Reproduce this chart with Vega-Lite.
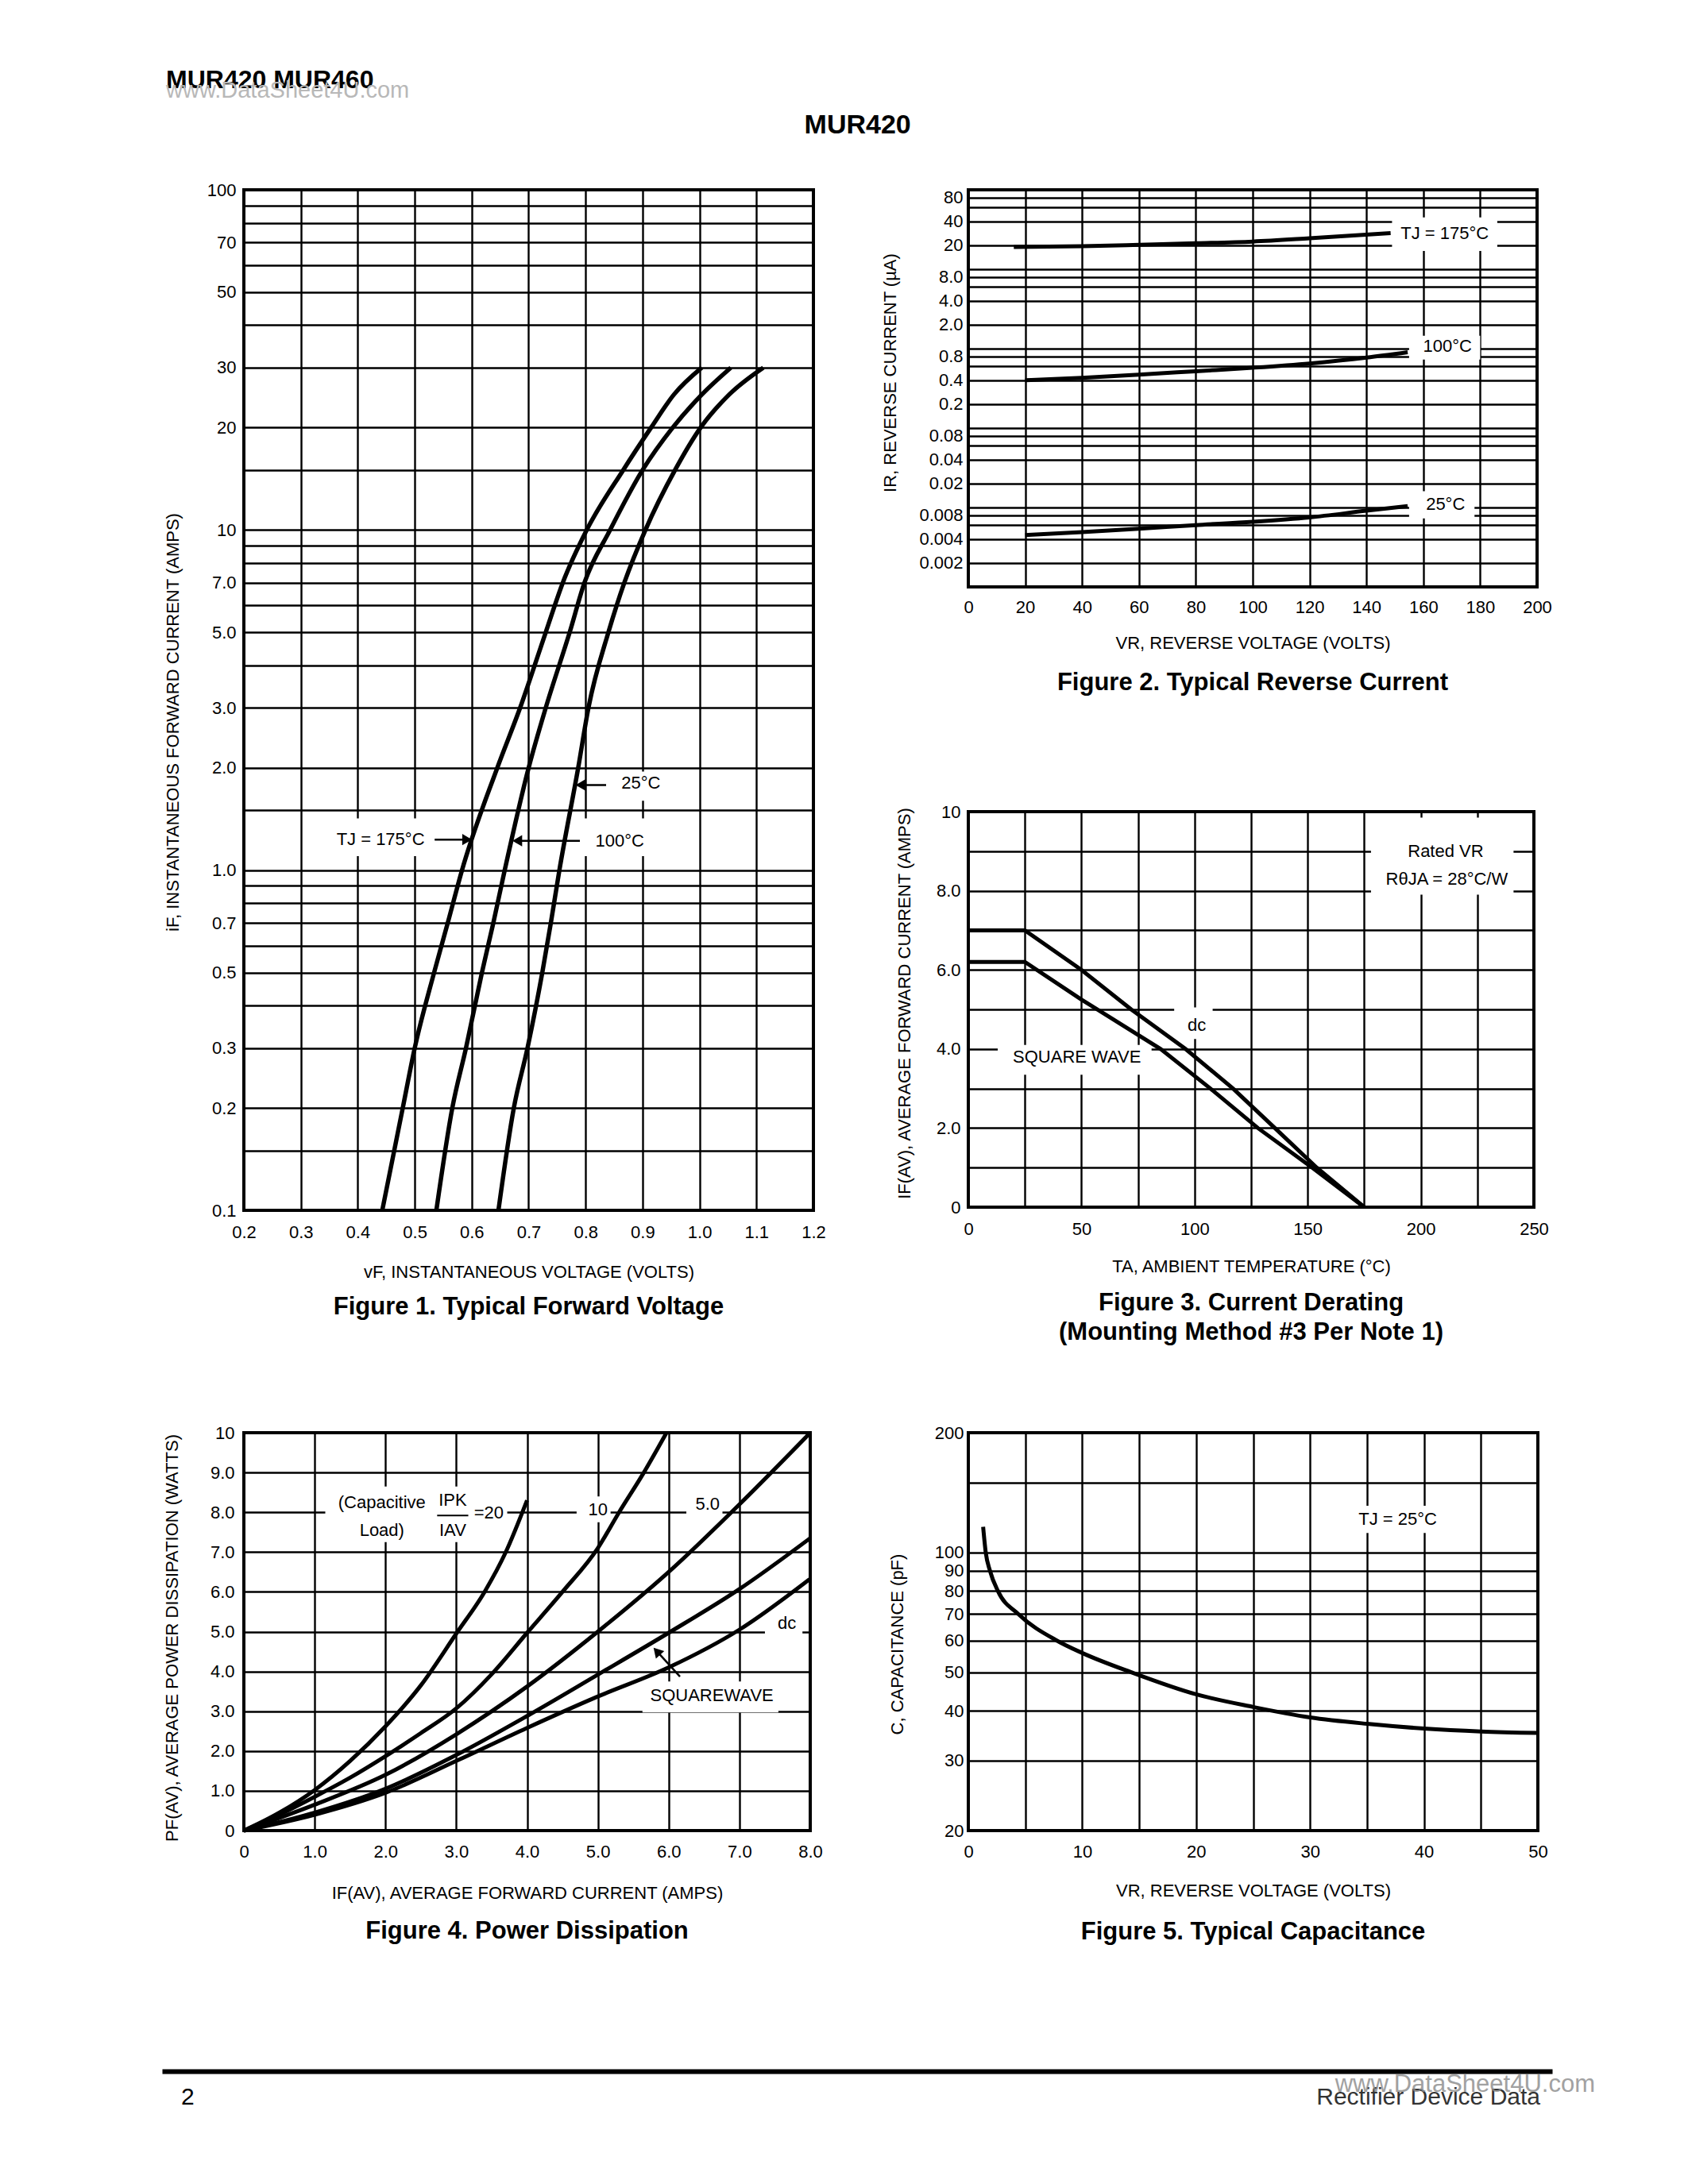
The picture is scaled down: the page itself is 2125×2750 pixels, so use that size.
{
  "$schema": "https://vega.github.io/schema/vega-lite/v6.json",
  "background": "white",
  "padding": {"left": 202, "top": 85, "right": 10, "bottom": 10},
  "title": {"text": "MUR420 MUR460", "subtitle": "www.DataSheet4U.com", "anchor": "start", "frame": "bounds", "offset": 11, "dx": 6, "font": "Liberation Sans", "fontSize": 32, "fontWeight": "bold", "color": "black", "subtitleFont": "Liberation Sans", "subtitleFontSize": 29, "subtitleFontWeight": "normal", "subtitleColor": "#b8b8b8", "subtitlePadding": -18},
  "spacing": 158,
  "vconcat": [
    {
      "spacing": 96,
      "vconcat": [
        {
          "title": {"text": "MUR420", "anchor": "middle", "frame": "bounds", "offset": 51, "font": "Liberation Sans", "fontSize": 34, "fontWeight": "bold", "color": "black"},
          "spacing": 64,
          "hconcat": [
            {
              "width": 717, "height": 1285,
              "title": {"text": "Figure 1. Typical Forward Voltage", "orient": "bottom", "anchor": "middle", "frame": "group", "offset": 19, "font": "Liberation Sans", "fontSize": 31, "fontWeight": "bold", "color": "black"},
              "encoding": {
                "x": {"field": "x", "type": "quantitative", "scale": {"domain": [0.2, 1.2], "nice": false, "zero": false},
                  "axis": {"values": [0.2, 0.3, 0.4, 0.5, 0.6, 0.7, 0.8, 0.9, 1.0, 1.1, 1.2], "labelExpr": "format(datum.value, '.1f')", "labelPadding": 17, "title": "vF, INSTANTANEOUS VOLTAGE (VOLTS)", "titleY": 67}},
                "y": {"field": "y", "type": "quantitative", "scale": {"type": "log", "domain": [0.1, 100], "nice": false},
                  "axis": {"values": [0.1, 0.15, 0.2, 0.3, 0.4, 0.5, 0.6, 0.7, 0.8, 0.9, 1, 1.5, 2, 3, 4, 5, 6, 7, 8, 9, 10, 15, 20, 30, 40, 50, 60, 70, 80, 90, 100],
                    "labelExpr": "indexof([0.1,0.2,0.3,0.5,0.7,1,2,3,5,7,10,20,30,50,70,100], datum.value) < 0 ? '' : datum.value < 10 ? format(datum.value, '.1f') : format(datum.value, 'd')",
                    "labelPadding": 10, "title": "iF, INSTANTANEOUS FORWARD CURRENT (AMPS)", "titleX": -78, "titleY": 670}}
              },
              "layer": [
                {"data": {"values": [
                  {"x": 0.355, "x2": 0.535, "y": 1.1, "y2": 1.42},
                  {"x": 0.79, "x2": 0.91, "y": 1.1, "y2": 1.42},
                  {"x": 0.835, "x2": 0.94, "y": 1.6, "y2": 1.95}]},
                  "mark": {"type": "rect", "fill": "white", "strokeWidth": 0},
                  "encoding": {"x2": {"field": "x2"}, "y2": {"field": "y2"}}},
                {"data": {"values": [
                  {"series": "175°C", "x": 0.443, "y": 0.1}, {"series": "175°C", "x": 0.479, "y": 0.2}, {"series": "175°C", "x": 0.5, "y": 0.3}, {"series": "175°C", "x": 0.534, "y": 0.5}, {"series": "175°C", "x": 0.558, "y": 0.7}, {"series": "175°C", "x": 0.583, "y": 1.0}, {"series": "175°C", "x": 0.645, "y": 2.0}, {"series": "175°C", "x": 0.685, "y": 3.0}, {"series": "175°C", "x": 0.73, "y": 5.0}, {"series": "175°C", "x": 0.76, "y": 7.0}, {"series": "175°C", "x": 0.802, "y": 10}, {"series": "175°C", "x": 0.866, "y": 15}, {"series": "175°C", "x": 0.915, "y": 20}, {"series": "175°C", "x": 0.955, "y": 25}, {"series": "175°C", "x": 1.004, "y": 30},
                  {"series": "100°C", "x": 0.538, "y": 0.1}, {"series": "100°C", "x": 0.566, "y": 0.2}, {"series": "100°C", "x": 0.59, "y": 0.3}, {"series": "100°C", "x": 0.618, "y": 0.5}, {"series": "100°C", "x": 0.638, "y": 0.7}, {"series": "100°C", "x": 0.658, "y": 1.0}, {"series": "100°C", "x": 0.7, "y": 2.0}, {"series": "100°C", "x": 0.73, "y": 3.0}, {"series": "100°C", "x": 0.772, "y": 5.0}, {"series": "100°C", "x": 0.798, "y": 7.0}, {"series": "100°C", "x": 0.843, "y": 10}, {"series": "100°C", "x": 0.9, "y": 15}, {"series": "100°C", "x": 0.953, "y": 20}, {"series": "100°C", "x": 1.004, "y": 25}, {"series": "100°C", "x": 1.055, "y": 30},
                  {"series": "25°C", "x": 0.647, "y": 0.1}, {"series": "25°C", "x": 0.674, "y": 0.2}, {"series": "25°C", "x": 0.698, "y": 0.3}, {"series": "25°C", "x": 0.724, "y": 0.5}, {"series": "25°C", "x": 0.739, "y": 0.7}, {"series": "25°C", "x": 0.754, "y": 1.0}, {"series": "25°C", "x": 0.787, "y": 2.0}, {"series": "25°C", "x": 0.805, "y": 3.0}, {"series": "25°C", "x": 0.84, "y": 5.0}, {"series": "25°C", "x": 0.868, "y": 7.0}, {"series": "25°C", "x": 0.905, "y": 10}, {"series": "25°C", "x": 0.957, "y": 15}, {"series": "25°C", "x": 1.002, "y": 20}, {"series": "25°C", "x": 1.052, "y": 25}, {"series": "25°C", "x": 1.112, "y": 30}]},
                  "mark": {"type": "line", "interpolate": "monotone", "strokeWidth": 5.5, "color": "black"},
                  "encoding": {"detail": {"field": "series", "type": "nominal"}}},
                {"data": {"values": [
                  {"x": 0.592, "x2": 0.535, "y": 1.23, "dir": "right"},
                  {"x": 0.68, "x2": 0.79, "y": 1.22, "dir": "left"},
                  {"x": 0.791, "x2": 0.836, "y": 1.78, "dir": "left"}]},
                  "mark": {"type": "rule", "strokeWidth": 2.5, "color": "black"},
                  "encoding": {"x2": {"field": "x2"}}},
                {"data": {"values": [
                  {"x": 0.592, "y": 1.23, "dir": "right"},
                  {"x": 0.68, "y": 1.22, "dir": "left"},
                  {"x": 0.791, "y": 1.78, "dir": "left"}]},
                  "mark": {"type": "point", "filled": true, "size": 200, "color": "black", "opacity": 1, "strokeWidth": 0},
                  "encoding": {"shape": {"field": "dir", "type": "nominal", "scale": {"domain": ["right", "left"], "range": ["triangle-right", "triangle-left"]}, "legend": null}}},
                {"data": {"values": [
                  {"label": "TJ = 175°C", "x": 0.44, "y": 1.23},
                  {"label": "100°C", "x": 0.86, "y": 1.22},
                  {"label": "25°C", "x": 0.897, "y": 1.8}]},
                  "mark": {"type": "text", "font": "Liberation Sans", "fontSize": 22, "color": "black"},
                  "encoding": {"text": {"field": "label"}}}
              ]
            },
            {
              "spacing": 132,
              "vconcat": [
                {
                  "width": 716, "height": 500,
                  "title": {"text": "Figure 2. Typical Reverse Current", "orient": "bottom", "anchor": "middle", "frame": "group", "offset": 25, "font": "Liberation Sans", "fontSize": 31, "fontWeight": "bold", "color": "black"},
                  "encoding": {
                    "x": {"field": "x", "type": "quantitative", "scale": {"domain": [0, 200], "nice": false, "zero": false},
                      "axis": {"values": [0, 20, 40, 60, 80, 100, 120, 140, 160, 180, 200], "labelExpr": "toString(datum.value)", "labelPadding": 15, "title": "VR, REVERSE VOLTAGE (VOLTS)", "titleY": 60}},
                    "y": {"field": "y", "type": "quantitative", "scale": {"type": "log", "domain": [0.001, 100], "nice": false},
                      "axis": {"values": [0.001, 0.002, 0.004, 0.006, 0.008, 0.01, 0.02, 0.04, 0.06, 0.08, 0.1, 0.2, 0.4, 0.6, 0.8, 1, 2, 4, 6, 8, 10, 20, 40, 60, 80, 100],
                        "labelExpr": "indexof([0.002,0.004,0.008,0.02,0.04,0.08,0.2,0.4,0.8,2,4,8,20,40,80], datum.value) < 0 ? '' : datum.value < 1 ? toString(datum.value) : datum.value < 10 ? format(datum.value, '.1f') : format(datum.value, 'd')",
                        "labelPadding": 7, "title": "IR, REVERSE CURRENT (µA)", "titleX": -87, "titleY": 230}}
                  },
                  "layer": [
                    {"data": {"values": [
                      {"x": 149, "x2": 186, "y": 17, "y2": 45},
                      {"x": 155, "x2": 180, "y": 0.73, "y2": 1.45},
                      {"x": 155, "x2": 178, "y": 0.0073, "y2": 0.016}]},
                      "mark": {"type": "rect", "fill": "white", "strokeWidth": 0},
                      "encoding": {"x2": {"field": "x2"}, "y2": {"field": "y2"}}},
                    {"data": {"values": [
                      {"series": "175°C", "x": 16, "y": 19.1}, {"series": "175°C", "x": 40, "y": 19.5}, {"series": "175°C", "x": 60, "y": 20.3}, {"series": "175°C", "x": 80, "y": 21.2}, {"series": "175°C", "x": 100, "y": 22.3}, {"series": "175°C", "x": 120, "y": 24.5}, {"series": "175°C", "x": 148.5, "y": 28.5},
                      {"series": "100°C", "x": 20, "y": 0.4}, {"series": "100°C", "x": 40, "y": 0.43}, {"series": "100°C", "x": 60, "y": 0.47}, {"series": "100°C", "x": 80, "y": 0.52}, {"series": "100°C", "x": 100, "y": 0.575}, {"series": "100°C", "x": 120, "y": 0.65}, {"series": "100°C", "x": 140, "y": 0.77}, {"series": "100°C", "x": 154.5, "y": 0.9},
                      {"series": "25°C", "x": 20, "y": 0.0045}, {"series": "25°C", "x": 40, "y": 0.0049}, {"series": "25°C", "x": 60, "y": 0.0054}, {"series": "25°C", "x": 80, "y": 0.006}, {"series": "25°C", "x": 100, "y": 0.0066}, {"series": "25°C", "x": 120, "y": 0.0075}, {"series": "25°C", "x": 140, "y": 0.0091}, {"series": "25°C", "x": 154.5, "y": 0.0104}]},
                      "mark": {"type": "line", "interpolate": "monotone", "strokeWidth": 5, "color": "black"},
                      "encoding": {"detail": {"field": "series", "type": "nominal"}}},
                    {"data": {"values": [
                      {"label": "TJ = 175°C", "x": 167.5, "y": 28},
                      {"label": "100°C", "x": 168.5, "y": 1.08},
                      {"label": "25°C", "x": 167.8, "y": 0.0109}]},
                      "mark": {"type": "text", "font": "Liberation Sans", "fontSize": 22, "color": "black"},
                      "encoding": {"text": {"field": "label"}}}
                  ]
                },
                {
                  "width": 712, "height": 498,
                  "title": {"text": ["Figure 3. Current Derating", "(Mounting Method #3 Per Note 1)"], "orient": "bottom", "anchor": "middle", "frame": "group", "offset": 21, "lineHeight": 37, "font": "Liberation Sans", "fontSize": 31, "fontWeight": "bold", "color": "black"},
                  "encoding": {
                    "x": {"field": "x", "type": "quantitative", "scale": {"domain": [0, 250], "nice": false, "zero": false},
                      "axis": {"values": [0, 25, 50, 75, 100, 125, 150, 175, 200, 225, 250], "labelExpr": "datum.value % 50 == 0 ? toString(datum.value) : ''", "labelPadding": 17, "title": "TA, AMBIENT TEMPERATURE (°C)", "titleY": 64}},
                    "y": {"field": "y", "type": "quantitative", "scale": {"domain": [0, 10], "nice": false, "zero": false},
                      "axis": {"values": [0, 1, 2, 3, 4, 5, 6, 7, 8, 9, 10], "labelExpr": "datum.value % 2 != 0 ? '' : (datum.value == 0 || datum.value == 10) ? toString(datum.value) : format(datum.value, '.1f')", "labelPadding": 10, "title": "IF(AV), AVERAGE FORWARD CURRENT (AMPS)", "titleX": -69, "titleY": 241}}
                  },
                  "layer": [
                    {"data": {"values": [
                      {"x": 178, "x2": 241, "y": 7.9, "y2": 9.85},
                      {"x": 91, "x2": 108, "y": 4.25, "y2": 5.05},
                      {"x": 13, "x2": 81, "y": 3.35, "y2": 4.1}]},
                      "mark": {"type": "rect", "fill": "white", "strokeWidth": 0},
                      "encoding": {"x2": {"field": "x2"}, "y2": {"field": "y2"}}},
                    {"data": {"values": [
                      {"series": "dc", "x": 0, "y": 7.0}, {"series": "dc", "x": 25, "y": 7.0}, {"series": "dc", "x": 50, "y": 6.0}, {"series": "dc", "x": 72, "y": 5.0}, {"series": "dc", "x": 96, "y": 4.0}, {"series": "dc", "x": 117, "y": 3.0}, {"series": "dc", "x": 135.5, "y": 2.0}, {"series": "dc", "x": 154, "y": 1.0}, {"series": "dc", "x": 175, "y": 0},
                      {"series": "square", "x": 0, "y": 6.2}, {"series": "square", "x": 25, "y": 6.2}, {"series": "square", "x": 50, "y": 5.25}, {"series": "square", "x": 85, "y": 4.0}, {"series": "square", "x": 107, "y": 3.0}, {"series": "square", "x": 128, "y": 2.0}, {"series": "square", "x": 152, "y": 1.0}, {"series": "square", "x": 175, "y": 0}]},
                      "mark": {"type": "line", "strokeWidth": 5, "color": "black"},
                      "encoding": {"detail": {"field": "series", "type": "nominal"}}},
                    {"data": {"values": [
                      {"label": "Rated VR", "x": 211, "y": 9.0},
                      {"label": "RθJA = 28°C/W", "x": 211.5, "y": 8.3},
                      {"label": "dc", "x": 101, "y": 4.6},
                      {"label": "SQUARE WAVE", "x": 48, "y": 3.8}]},
                      "mark": {"type": "text", "font": "Liberation Sans", "fontSize": 22, "color": "black"},
                      "encoding": {"text": {"field": "label"}}}
                  ]
                }
              ]
            }
          ]
        },
        {
          "spacing": 78,
          "hconcat": [
            {
              "width": 713, "height": 501,
              "title": {"text": "Figure 4. Power Dissipation", "orient": "bottom", "anchor": "middle", "frame": "group", "offset": 23, "font": "Liberation Sans", "fontSize": 31, "fontWeight": "bold", "color": "black"},
              "encoding": {
                "x": {"field": "x", "type": "quantitative", "scale": {"domain": [0, 8], "nice": false, "zero": false},
                  "axis": {"values": [0, 1, 2, 3, 4, 5, 6, 7, 8], "labelExpr": "datum.value == 0 ? '0' : format(datum.value, '.1f')", "labelPadding": 16, "title": "IF(AV), AVERAGE FORWARD CURRENT (AMPS)", "titleY": 68}},
                "y": {"field": "y", "type": "quantitative", "scale": {"domain": [0, 10], "nice": false, "zero": false},
                  "axis": {"values": [0, 1, 2, 3, 4, 5, 6, 7, 8, 9, 10], "labelExpr": "datum.value == 0 ? '0' : datum.value == 10 ? '10' : format(datum.value, '.1f')", "labelPadding": 12, "title": "PF(AV), AVERAGE POWER DISSIPATION (WATTS)", "titleX": -79, "titleY": 258}}
              },
              "layer": [
                {"data": {"values": [
                  {"x": 1.15, "x2": 3.72, "y": 7.25, "y2": 8.65},
                  {"x": 4.7, "x2": 5.18, "y": 7.75, "y2": 8.4},
                  {"x": 6.25, "x2": 6.76, "y": 7.8, "y2": 8.6},
                  {"x": 7.36, "x2": 7.89, "y": 4.9, "y2": 5.5},
                  {"x": 5.63, "x2": 7.55, "y": 2.97, "y2": 3.75}]},
                  "mark": {"type": "rect", "fill": "white", "strokeWidth": 0},
                  "encoding": {"x2": {"field": "x2"}, "y2": {"field": "y2"}}},
                {"data": {"values": [
                  {"series": "20", "x": 0, "y": 0}, {"series": "20", "x": 0.5, "y": 0.45}, {"series": "20", "x": 1.0, "y": 1.02}, {"series": "20", "x": 1.5, "y": 1.75}, {"series": "20", "x": 2.0, "y": 2.62}, {"series": "20", "x": 2.5, "y": 3.65}, {"series": "20", "x": 3.0, "y": 4.95}, {"series": "20", "x": 3.4, "y": 6.0}, {"series": "20", "x": 3.7, "y": 7.0}, {"series": "20", "x": 4.0, "y": 8.3},
                  {"series": "10", "x": 0, "y": 0}, {"series": "10", "x": 0.5, "y": 0.4}, {"series": "10", "x": 1.0, "y": 0.85}, {"series": "10", "x": 1.5, "y": 1.33}, {"series": "10", "x": 2.0, "y": 1.87}, {"series": "10", "x": 2.5, "y": 2.45}, {"series": "10", "x": 3.0, "y": 3.07}, {"series": "10", "x": 3.5, "y": 3.93}, {"series": "10", "x": 4.0, "y": 4.97}, {"series": "10", "x": 4.5, "y": 6.0}, {"series": "10", "x": 5.0, "y": 7.1}, {"series": "10", "x": 5.3, "y": 8.0}, {"series": "10", "x": 5.65, "y": 9.0}, {"series": "10", "x": 5.97, "y": 10},
                  {"series": "5", "x": 0, "y": 0}, {"series": "5", "x": 1, "y": 0.65}, {"series": "5", "x": 2, "y": 1.4}, {"series": "5", "x": 3, "y": 2.42}, {"series": "5", "x": 4, "y": 3.62}, {"series": "5", "x": 5, "y": 5.0}, {"series": "5", "x": 6, "y": 6.5}, {"series": "5", "x": 7, "y": 8.2}, {"series": "5", "x": 8, "y": 10},
                  {"series": "square", "x": 0, "y": 0}, {"series": "square", "x": 1, "y": 0.45}, {"series": "square", "x": 2, "y": 1.05}, {"series": "square", "x": 3, "y": 1.9}, {"series": "square", "x": 4, "y": 2.88}, {"series": "square", "x": 5, "y": 3.92}, {"series": "square", "x": 6, "y": 4.97}, {"series": "square", "x": 7, "y": 6.07}, {"series": "square", "x": 8, "y": 7.35},
                  {"series": "dc", "x": 0, "y": 0}, {"series": "dc", "x": 1, "y": 0.4}, {"series": "dc", "x": 2, "y": 0.95}, {"series": "dc", "x": 3, "y": 1.75}, {"series": "dc", "x": 4, "y": 2.58}, {"series": "dc", "x": 5, "y": 3.37}, {"series": "dc", "x": 6, "y": 4.1}, {"series": "dc", "x": 7, "y": 5.05}, {"series": "dc", "x": 8, "y": 6.33}]},
                  "mark": {"type": "line", "interpolate": "monotone", "strokeWidth": 5, "color": "black"},
                  "encoding": {"detail": {"field": "series", "type": "nominal"}}},
                {"data": {"values": [{"x": 2.73, "x2": 3.17, "y": 7.92}]},
                  "mark": {"type": "rule", "strokeWidth": 2, "color": "black"},
                  "encoding": {"x2": {"field": "x2"}}},
                {"data": {"values": [{"x": 5.833, "y": 4.507, "x2": 6.16, "y2": 3.87}]},
                  "mark": {"type": "rule", "strokeWidth": 2.5, "color": "black"},
                  "encoding": {"x2": {"field": "x2"}, "y2": {"field": "y2"}}},
                {"data": {"values": [{"x": 5.833, "y": 4.507}]},
                  "mark": {"type": "point", "shape": "triangle-up", "angle": -42, "filled": true, "size": 200, "color": "black", "opacity": 1, "strokeWidth": 0}},
                {"data": {"values": [
                  {"label": "(Capacitive", "x": 1.95, "y": 8.24},
                  {"label": "Load)", "x": 1.95, "y": 7.54},
                  {"label": "IPK", "x": 2.95, "y": 8.3},
                  {"label": "IAV", "x": 2.95, "y": 7.54},
                  {"label": "=20", "x": 3.46, "y": 7.98},
                  {"label": "10", "x": 5.0, "y": 8.07},
                  {"label": "5.0", "x": 6.55, "y": 8.2},
                  {"label": "dc", "x": 7.67, "y": 5.2},
                  {"label": "SQUAREWAVE", "x": 6.61, "y": 3.4}]},
                  "mark": {"type": "text", "font": "Liberation Sans", "fontSize": 22, "color": "black"},
                  "encoding": {"text": {"field": "label"}}}
              ]
            },
            {
              "width": 717, "height": 501,
              "title": {"text": "Figure 5. Typical Capacitance", "orient": "bottom", "anchor": "middle", "frame": "group", "offset": 27, "font": "Liberation Sans", "fontSize": 31, "fontWeight": "bold", "color": "black"},
              "encoding": {
                "x": {"field": "x", "type": "quantitative", "scale": {"domain": [0, 50], "nice": false, "zero": false},
                  "axis": {"values": [0, 5, 10, 15, 20, 25, 30, 35, 40, 45, 50], "labelExpr": "datum.value % 10 == 0 ? toString(datum.value) : ''", "labelPadding": 16, "title": "VR, REVERSE VOLTAGE (VOLTS)", "titleY": 65}},
                "y": {"field": "y", "type": "quantitative", "scale": {"type": "log", "domain": [20, 200], "nice": false},
                  "axis": {"values": [20, 30, 40, 50, 60, 70, 80, 90, 100, 150, 200], "labelExpr": "datum.value == 150 ? '' : toString(datum.value)", "labelPadding": 6, "title": "C, CAPACITANCE (pF)", "titleX": -78, "titleY": 266}}
              },
              "layer": [
                {"data": {"values": [{"x": 33.5, "x2": 41.8, "y": 112, "y2": 131}]},
                  "mark": {"type": "rect", "fill": "white", "strokeWidth": 0},
                  "encoding": {"x2": {"field": "x2"}, "y2": {"field": "y2"}}},
                {"data": {"values": [
                  {"x": 1.3, "y": 116}, {"x": 1.53, "y": 100}, {"x": 1.9, "y": 90}, {"x": 2.6, "y": 80}, {"x": 4.4, "y": 70}, {"x": 7.8, "y": 60}, {"x": 10, "y": 55.9}, {"x": 14.3, "y": 50}, {"x": 20, "y": 44}, {"x": 25, "y": 40.9}, {"x": 30, "y": 38.5}, {"x": 35, "y": 37.1}, {"x": 40, "y": 36.1}, {"x": 45, "y": 35.5}, {"x": 50, "y": 35.2}]},
                  "mark": {"type": "line", "interpolate": "monotone", "strokeWidth": 5, "color": "black"}},
                {"data": {"values": [{"label": "TJ = 25°C", "x": 37.7, "y": 121}]},
                  "mark": {"type": "text", "font": "Liberation Sans", "fontSize": 22, "color": "black"},
                  "encoding": {"text": {"field": "label"}}}
              ]
            }
          ]
        }
      ]
    },
    {
      "width": 1647, "height": 65,
      "view": {"stroke": null},
      "data": {"values": [
        {"slot": "left", "t": "2"},
        {"slot": "right", "t": "Rectifier Device Data"},
        {"slot": "right", "t": "www.DataSheet4U.com"}]},
      "encoding": {
        "x": {"field": "slot", "type": "nominal", "scale": {"type": "point", "domain": ["left", "right"], "range": [-103, 1647], "padding": 0},
          "axis": {"orient": "top", "domain": true, "domainColor": "black", "domainWidth": 6, "grid": false, "labels": false, "ticks": false, "title": null}},
        "text": {"field": "t"}
      },
      "layer": [
        {"transform": [{"filter": "datum.t === '2'"}], "mark": {"type": "text", "align": "left", "dx": 24, "font": "Liberation Sans", "fontSize": 30, "color": "black"}},
        {"transform": [{"filter": "datum.t === 'Rectifier Device Data'"}], "mark": {"type": "text", "align": "right", "dx": -15, "font": "Liberation Sans", "fontSize": 30, "color": "#333333"}},
        {"transform": [{"filter": "datum.t === 'www.DataSheet4U.com'"}], "mark": {"type": "text", "align": "right", "dx": 54, "dy": -16, "font": "Liberation Sans", "fontSize": 31, "color": "#8a8a8a", "opacity": 0.8}}
      ]
    }
  ],
  "config": {
    "font": "Liberation Sans",
    "view": {"stroke": "black", "strokeWidth": 4},
    "axis": {"grid": true, "gridColor": "black", "gridWidth": 2.4, "gridOpacity": 1, "domain": false, "ticks": false, "tickSize": 0, "minExtent": 0, "labelFont": "Liberation Sans", "labelFontSize": 22, "labelColor": "black", "labelFlush": false, "labelOverlap": false, "labelLimit": 400, "titleFont": "Liberation Sans", "titleFontSize": 22, "titleFontWeight": "normal", "titleColor": "black"}
  }
}
